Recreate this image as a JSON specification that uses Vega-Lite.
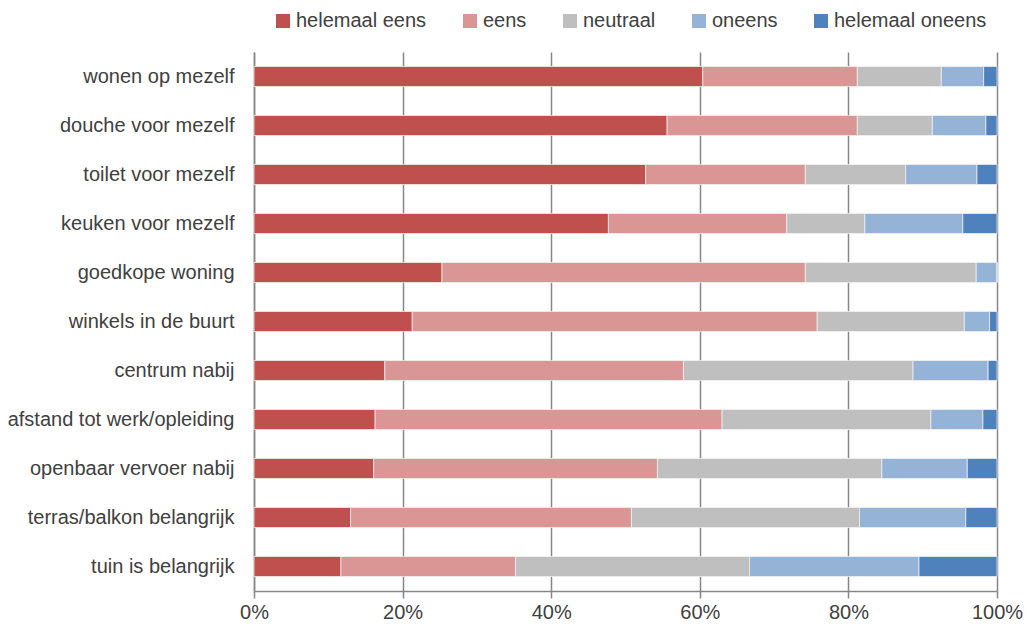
{
  "$schema": "https://vega.github.io/schema/vega-lite/v6.json",
  "autosize": {"type": "none"},
  "padding": {"left": 254, "top": 52, "right": 28, "bottom": 41},
  "width": 743,
  "height": 539,
  "background": "white",
  "config": {
    "view": {"stroke": null},
    "font": "Liberation Sans, Arial, sans-serif"
  },
  "data": {
    "values": [
      {"cat": "wonen op mezelf", "resp": "helemaal eens", "o": 1, "v": 60.4},
      {"cat": "wonen op mezelf", "resp": "eens", "o": 2, "v": 20.8},
      {"cat": "wonen op mezelf", "resp": "neutraal", "o": 3, "v": 11.3},
      {"cat": "wonen op mezelf", "resp": "oneens", "o": 4, "v": 5.7},
      {"cat": "wonen op mezelf", "resp": "helemaal oneens", "o": 5, "v": 1.8},
      {"cat": "douche voor mezelf", "resp": "helemaal eens", "o": 1, "v": 55.6},
      {"cat": "douche voor mezelf", "resp": "eens", "o": 2, "v": 25.6},
      {"cat": "douche voor mezelf", "resp": "neutraal", "o": 3, "v": 10.1},
      {"cat": "douche voor mezelf", "resp": "oneens", "o": 4, "v": 7.2},
      {"cat": "douche voor mezelf", "resp": "helemaal oneens", "o": 5, "v": 1.5},
      {"cat": "toilet voor mezelf", "resp": "helemaal eens", "o": 1, "v": 52.7},
      {"cat": "toilet voor mezelf", "resp": "eens", "o": 2, "v": 21.5},
      {"cat": "toilet voor mezelf", "resp": "neutraal", "o": 3, "v": 13.5},
      {"cat": "toilet voor mezelf", "resp": "oneens", "o": 4, "v": 9.6},
      {"cat": "toilet voor mezelf", "resp": "helemaal oneens", "o": 5, "v": 2.7},
      {"cat": "keuken voor mezelf", "resp": "helemaal eens", "o": 1, "v": 47.7},
      {"cat": "keuken voor mezelf", "resp": "eens", "o": 2, "v": 24.0},
      {"cat": "keuken voor mezelf", "resp": "neutraal", "o": 3, "v": 10.5},
      {"cat": "keuken voor mezelf", "resp": "oneens", "o": 4, "v": 13.2},
      {"cat": "keuken voor mezelf", "resp": "helemaal oneens", "o": 5, "v": 4.6},
      {"cat": "goedkope woning", "resp": "helemaal eens", "o": 1, "v": 25.3},
      {"cat": "goedkope woning", "resp": "eens", "o": 2, "v": 48.9},
      {"cat": "goedkope woning", "resp": "neutraal", "o": 3, "v": 23.0},
      {"cat": "goedkope woning", "resp": "oneens", "o": 4, "v": 2.8},
      {"cat": "goedkope woning", "resp": "helemaal oneens", "o": 5, "v": 0},
      {"cat": "winkels in de buurt", "resp": "helemaal eens", "o": 1, "v": 21.3},
      {"cat": "winkels in de buurt", "resp": "eens", "o": 2, "v": 54.5},
      {"cat": "winkels in de buurt", "resp": "neutraal", "o": 3, "v": 19.8},
      {"cat": "winkels in de buurt", "resp": "oneens", "o": 4, "v": 3.4},
      {"cat": "winkels in de buurt", "resp": "helemaal oneens", "o": 5, "v": 1.0},
      {"cat": "centrum nabij", "resp": "helemaal eens", "o": 1, "v": 17.6},
      {"cat": "centrum nabij", "resp": "eens", "o": 2, "v": 40.2},
      {"cat": "centrum nabij", "resp": "neutraal", "o": 3, "v": 30.9},
      {"cat": "centrum nabij", "resp": "oneens", "o": 4, "v": 10.1},
      {"cat": "centrum nabij", "resp": "helemaal oneens", "o": 5, "v": 1.2},
      {"cat": "afstand tot werk/opleiding", "resp": "helemaal eens", "o": 1, "v": 16.3},
      {"cat": "afstand tot werk/opleiding", "resp": "eens", "o": 2, "v": 46.7},
      {"cat": "afstand tot werk/opleiding", "resp": "neutraal", "o": 3, "v": 28.1},
      {"cat": "afstand tot werk/opleiding", "resp": "oneens", "o": 4, "v": 7.0},
      {"cat": "afstand tot werk/opleiding", "resp": "helemaal oneens", "o": 5, "v": 1.9},
      {"cat": "openbaar vervoer nabij", "resp": "helemaal eens", "o": 1, "v": 16.1},
      {"cat": "openbaar vervoer nabij", "resp": "eens", "o": 2, "v": 38.2},
      {"cat": "openbaar vervoer nabij", "resp": "neutraal", "o": 3, "v": 30.2},
      {"cat": "openbaar vervoer nabij", "resp": "oneens", "o": 4, "v": 11.5},
      {"cat": "openbaar vervoer nabij", "resp": "helemaal oneens", "o": 5, "v": 4.0},
      {"cat": "terras/balkon belangrijk", "resp": "helemaal eens", "o": 1, "v": 13.0},
      {"cat": "terras/balkon belangrijk", "resp": "eens", "o": 2, "v": 37.8},
      {"cat": "terras/balkon belangrijk", "resp": "neutraal", "o": 3, "v": 30.7},
      {"cat": "terras/balkon belangrijk", "resp": "oneens", "o": 4, "v": 14.3},
      {"cat": "terras/balkon belangrijk", "resp": "helemaal oneens", "o": 5, "v": 4.2},
      {"cat": "tuin is belangrijk", "resp": "helemaal eens", "o": 1, "v": 11.7},
      {"cat": "tuin is belangrijk", "resp": "eens", "o": 2, "v": 23.5},
      {"cat": "tuin is belangrijk", "resp": "neutraal", "o": 3, "v": 31.5},
      {"cat": "tuin is belangrijk", "resp": "oneens", "o": 4, "v": 22.8},
      {"cat": "tuin is belangrijk", "resp": "helemaal oneens", "o": 5, "v": 10.5}
    ]
  },
  "mark": {"type": "bar", "stroke": "#f2f2f2", "strokeWidth": 0.75},
  "encoding": {
    "y": {
      "field": "cat",
      "type": "nominal",
      "sort": null,
      "title": null,
      "scale": {"paddingInner": 0.59, "paddingOuter": 0.295},
      "axis": {
        "ticks": false,
        "domain": true,
        "domainColor": "#878787",
        "domainWidth": 1.5,
        "labelFontSize": 20,
        "labelColor": "#404040",
        "labelPadding": 20,
        "labelLimit": 300
      }
    },
    "x": {
      "field": "v",
      "type": "quantitative",
      "stack": "normalize",
      "title": null,
      "scale": {"domain": [0, 1], "nice": false},
      "axis": {
        "format": "%",
        "values": [0, 0.2, 0.4, 0.6, 0.8, 1],
        "grid": true,
        "gridColor": "#878787",
        "gridWidth": 1.5,
        "domainColor": "#878787",
        "domainWidth": 1.5,
        "tickColor": "#878787",
        "tickWidth": 1.5,
        "tickSize": 7,
        "labelFontSize": 20,
        "labelColor": "#404040",
        "labelPadding": 4,
        "labelFlush": false
      }
    },
    "color": {
      "field": "resp",
      "type": "nominal",
      "scale": {
        "domain": ["helemaal eens", "eens", "neutraal", "oneens", "helemaal oneens"],
        "range": ["#C0504D", "#DA9694", "#BFBFBF", "#95B3D7", "#4F81BD"]
      },
      "legend": {
        "title": null,
        "orient": "none",
        "direction": "horizontal",
        "legendX": 19,
        "legendY": -41,
        "symbolType": "square",
        "symbolSize": 196,
        "symbolStrokeWidth": 0,
        "labelFontSize": 20,
        "labelColor": "#404040",
        "labelOffset": 3,
        "columnPadding": 33,
        "labelLimit": 300
      }
    },
    "order": {"field": "o", "type": "quantitative"}
  }
}
